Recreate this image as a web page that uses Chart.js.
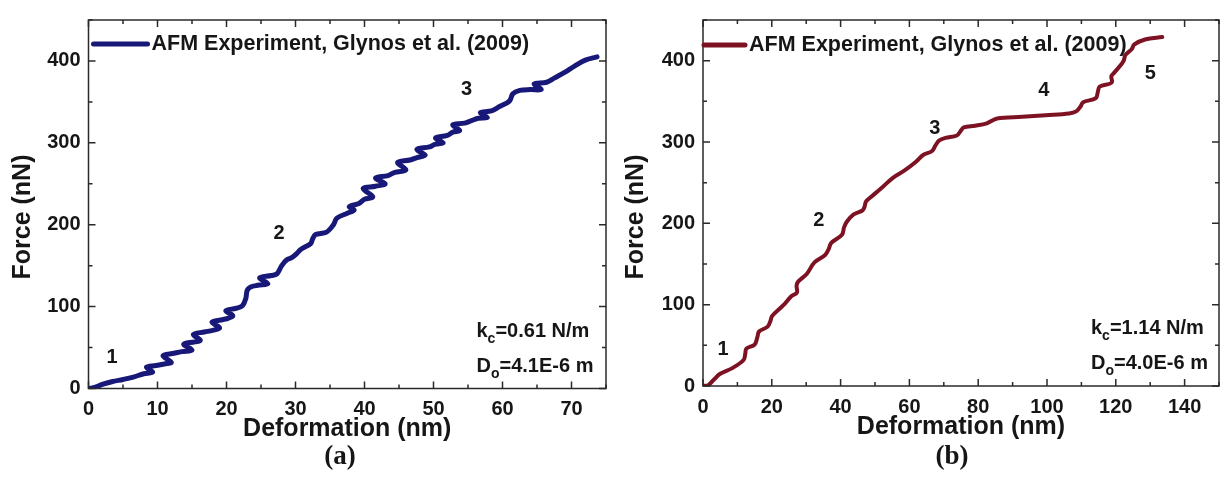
<!DOCTYPE html>
<html>
<head>
<meta charset="utf-8">
<script src="https://cdn.jsdelivr.net/npm/chart.js@4.4.1/dist/chart.umd.min.js"></script>
<style>
  body { margin: 0; background: #fff; width: 1227px; height: 479px; overflow: hidden; position: relative; }
  canvas { position: absolute; top: 0; }
</style>
</head>
<body>
<canvas id="grafico-a" width="613" height="479" style="left:0"></canvas>
<canvas id="grafico-b" width="614" height="479" style="left:613px"></canvas>
<script>
// Textos comuns aos dois painéis
const tituloX = 'Deformation (nm)';
const tituloY = 'Force (nN)';
const legenda = 'AFM Experiment, Glynos et al. (2009)';
const ticksY = [0, 100, 200, 300, 400];

// Painel (a): kc = 0.61 N/m
const deformacaoA = [
  0, 1, 2, 3.5, 5, 6.5, 8, 9.3, 8.4, 9.8, 11, 12, 10.8, 12.4, 13.5, 15, 13.8,
  15.4, 16.2, 15.2, 16.8, 18, 19, 17.9, 19.4, 20.3, 20.9, 19.9, 21.4, 22.3,
  22.8, 23, 23.5, 24.5, 26, 24.8, 26.5, 27.3, 28, 28.7, 29.5, 30.2, 30.8,
  32.2, 32.5, 32.9, 34.5, 35.5, 36, 37.5, 38.5, 37.8, 39.2, 40, 41.2, 39.8,
  41.6, 43, 41.6, 43.4, 44.4, 46, 44.8, 46.6, 47.6, 48.8, 47.6, 49.4, 50.2,
  51.4, 50.3, 52, 52.8, 53.8, 52.8, 54.5, 55.5, 56.5, 57.8, 56.8, 58.4, 59.5,
  61, 61.5, 62.5, 64, 65.6, 64.6, 66.4, 67.5, 69, 70.5, 72, 73.7,
];
const forcaA = [
  0, 1.5, 5, 8.5, 11, 14, 18, 20, 26, 28, 30, 32, 40, 43, 45, 47, 54, 57, 59,
  66, 69, 71, 74, 81, 84, 86, 89, 95, 98, 101, 110, 120, 124, 126, 128, 135,
  138, 140, 150, 157, 160, 165, 170, 177, 183, 188, 191, 200, 208, 214, 218,
  222, 226, 231, 234, 244, 247, 250, 257, 260, 264, 267, 276, 279, 282, 285,
  292, 295, 298, 300, 306, 309, 313, 315, 322, 324, 327, 330, 331, 337, 339,
  344, 351, 360, 364, 365, 365, 372, 374, 379, 386, 394, 401, 405,
];
const ticksXA = [0, 10, 20, 30, 40, 50, 60, 70];
const etapasA = ['1', '2', '3'];
const etapasAX = [3.4, 27.6, 54.8];
const etapasAY = [37.7, 189, 365];

// Painel (b): kc = 1.14 N/m
const deformacaoB = [
  0, 1.5, 3.2, 5, 8.5, 11.8, 12.3, 12.6, 15, 15.8, 16.3, 18.8, 19.6, 20.1,
  23.3, 25.6, 27.3, 27.2, 27.6, 30.2, 32.4, 35.5, 36.5, 37.3, 40.4, 41, 41.8,
  43.8, 46.4, 47, 47.4, 49, 51.8, 55.2, 58.6, 62, 64, 66.6, 67.6, 68.7, 70.5,
  73.8, 74.8, 75.8, 79.1, 82.5, 85.5, 92.8, 99.6, 106.4, 108.6, 109.8, 110.5,
  114.2, 114.8, 115.3, 118.8, 118.7, 119.5, 121.5, 122.3, 122.8, 124.6, 125.4,
  128.5, 133.5,
];
const forcaB = [
  0, 1, 8, 15, 22, 32, 40, 46, 51, 60, 67, 73, 80, 86, 99, 110, 115, 123, 128,
  138, 152, 161, 168, 176, 186, 195, 202, 211, 216, 221, 227, 233, 243, 256,
  265, 276, 284, 289, 296, 302, 305, 308, 313, 318, 320, 323, 329, 331, 333,
  335, 338, 344, 349, 354, 362, 368, 373, 381, 385, 395, 400, 407, 414, 420,
  426, 429,
];
const ticksXB = [0, 20, 40, 60, 80, 100, 120, 140];
const etapasB = ['1', '2', '3', '4', '5'];
const etapasBX = [5.8, 33.7, 67.4, 99.1, 130];
const etapasBY = [45, 204, 317, 363, 384];

const fonte = '"Liberation Sans", Arial, sans-serif';
const corTexto = '#161616';

// Moldura com ticks para dentro, legenda, títulos e anotações
const molduraPlugin = {
  id: 'moldura',
  afterDraw(chart, args, o) {
    const { ctx, chartArea: a, scales } = chart;
    const sx = scales.x, sy = scales.y;
    ctx.save();
    ctx.strokeStyle = '#2a2a2a';
    ctx.lineWidth = 1.5;
    ctx.strokeRect(a.left, a.top, a.right - a.left, a.bottom - a.top);

    ctx.beginPath();
    for (let v = 0; v <= sx.max + 1e-6; v += o.passoX / 2) {
      const px = sx.getPixelForValue(v);
      const len = Math.abs(v % o.passoX) < 1e-6 ? 7 : 4;
      ctx.moveTo(px, a.bottom); ctx.lineTo(px, a.bottom - len);
      ctx.moveTo(px, a.top); ctx.lineTo(px, a.top + len);
    }
    for (let v = 0; v <= sy.max + 1e-6; v += 50) {
      const py = sy.getPixelForValue(v);
      const len = v % 100 === 0 ? 7 : 4;
      ctx.moveTo(a.left, py); ctx.lineTo(a.left + len, py);
      ctx.moveTo(a.right, py); ctx.lineTo(a.right - len, py);
    }
    ctx.stroke();

    // legenda
    const ds = chart.data.datasets[0];
    ctx.strokeStyle = ds.borderColor;
    ctx.lineWidth = 5;
    ctx.lineCap = 'round';
    ctx.beginPath();
    ctx.moveTo(a.left + o.legX0, a.top + o.legY);
    ctx.lineTo(a.left + o.legX1, a.top + o.legY);
    ctx.stroke();
    ctx.fillStyle = corTexto;
    ctx.textBaseline = 'middle';
    ctx.textAlign = 'left';
    ctx.font = `bold 21.5px ${fonte}`;
    ctx.fillText(ds.label, a.left + o.legX1 + 4, a.top + o.legY);

    // título do eixo y
    ctx.save();
    ctx.translate(o.tituloYX, 217);
    ctx.rotate(-Math.PI / 2);
    ctx.textAlign = 'center';
    ctx.font = `bold 25px ${fonte}`;
    ctx.fillText(tituloY, 0, 0);
    ctx.restore();

    // etapas numeradas
    ctx.textAlign = 'center';
    ctx.font = `bold 20px ${fonte}`;
    o.etapas.forEach((t, i) => {
      ctx.fillText(t, sx.getPixelForValue(o.etapasX[i]), sy.getPixelForValue(o.etapasY[i]));
    });

    // constantes da medida
    ctx.textAlign = 'left';
    o.notas.forEach(([base, indice, resto], i) => {
      let x = a.left + 388;
      const y = o.notasY[i];
      ctx.font = `bold 20px ${fonte}`;
      ctx.fillText(base, x, y);
      x += ctx.measureText(base).width;
      ctx.font = `bold 14px ${fonte}`;
      ctx.fillText(indice, x, y + 8);
      x += ctx.measureText(indice).width;
      ctx.font = `bold 20px ${fonte}`;
      ctx.fillText(resto, x, y);
    });

    // identificação do painel
    ctx.font = `bold 27px "Liberation Serif", "Times New Roman", serif`;
    ctx.textAlign = 'center';
    ctx.fillText(o.painel, o.painelX, 457);
    ctx.restore();
  },
};

function criarGrafico(id, xs, ys, cor, espessura, xMax, ticksX, cfg) {
  const pontos = xs.map((x, i) => ({ x, y: ys[i] }));
  const fonteTicks = { family: fonte, size: 20, weight: 'bold' };
  return new Chart(document.getElementById(id), {
    type: 'scatter',
    data: {
      datasets: [{
        label: legenda,
        data: pontos,
        showLine: true,
        borderColor: cor,
        borderWidth: espessura,
        pointRadius: 0,
        tension: 0.35,
        borderCapStyle: 'round',
        borderJoinStyle: 'round',
      }],
    },
    options: {
      responsive: false,
      animation: false,
      events: [],
      layout: { padding: { left: 0, top: cfg.topo, right: cfg.direita, bottom: cfg.baixo } },
      plugins: { legend: { display: false }, tooltip: { enabled: false }, moldura: cfg },
      scales: {
        x: {
          type: 'linear', min: 0, max: xMax,
          afterBuildTicks: s => { s.ticks = ticksX.map(v => ({ value: v })); },
          afterFit: s => { s.height = 60; },
          grid: { display: false, drawTicks: false },
          border: { display: false },
          ticks: { padding: 9, color: corTexto, font: fonteTicks, maxRotation: 0, autoSkip: false },
          title: {
            display: true, text: tituloX, color: corTexto,
            font: { family: fonte, size: 25, weight: 'bold' },
            padding: { top: 0, bottom: 4 },
          },
        },
        y: {
          min: 0, max: 450,
          afterBuildTicks: s => { s.ticks = ticksY.map(v => ({ value: v })); },
          afterFit: s => { s.width = cfg.larguraY; },
          grid: { display: false, drawTicks: false },
          border: { display: false },
          ticks: { padding: 8, color: corTexto, font: fonteTicks },
        },
      },
    },
    plugins: [molduraPlugin],
  });
}

criarGrafico('grafico-a', deformacaoA, forcaA, '#181878', 5, 75, ticksXA, {
  topo: 9, direita: 7, baixo: 30.5, larguraY: 88.5, passoX: 10,
  legX0: 5, legX1: 59, legY: 24, tituloYX: 23,
  etapas: etapasA, etapasX: etapasAX, etapasY: etapasAY,
  notas: [['k', 'c', '=0.61 N/m'], ['D', 'o', '=4.1E-6 m']], notasY: [331, 366],
  painel: '(a)', painelX: 340,
});

criarGrafico('grafico-b', deformacaoB, forcaB, '#7c1222', 4, 150, ticksXB, {
  topo: 6.5, direita: 8, baixo: 33, larguraY: 90, passoX: 20,
  legX0: 1, legX1: 42, legY: 25, tituloYX: 23,
  etapas: etapasB, etapasX: etapasBX, etapasY: etapasBY,
  notas: [['k', 'c', '=1.14 N/m'], ['D', 'o', '=4.0E-6 m']], notasY: [328, 363],
  painel: '(b)', painelX: 339,
});
</script>
</body>
</html>
